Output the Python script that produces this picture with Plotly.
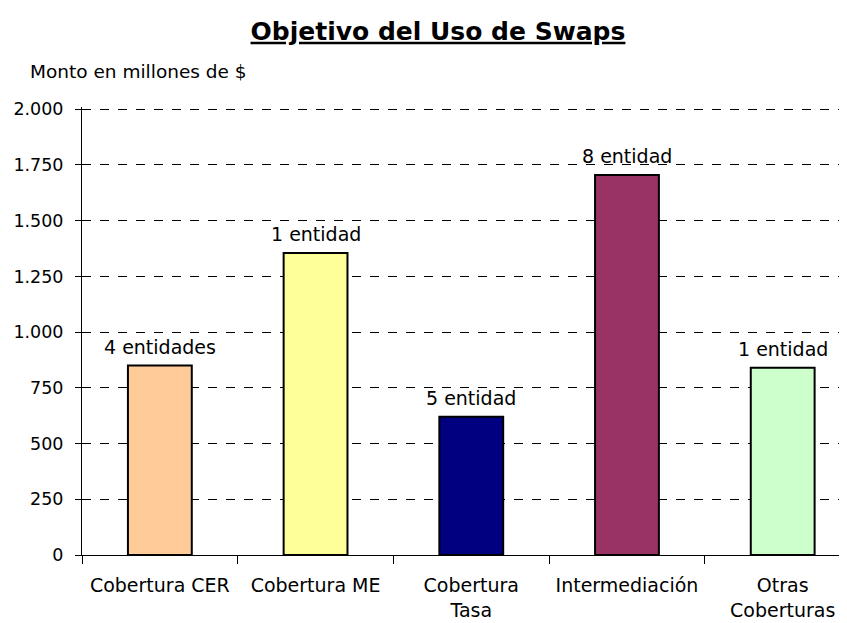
import plotly.graph_objects as go

categorias = ['Cobertura CER', 'Cobertura ME', 'Cobertura<br>Tasa', 'Intermediación', 'Otras<br>Coberturas']
montos = [850, 1355, 620, 1705, 840]
etiquetas = ['4 entidades', '1 entidad', '5 entidad', '8 entidad', '1 entidad']
colores = ['#FFCC99', '#FFFF99', '#000080', '#993366', '#CCFFCC']

FUENTE = 'DejaVu Sans'

fig = go.Figure(go.Bar(
    x=categorias, y=montos,
    marker=dict(color=colores, line=dict(color='black', width=2)),
    width=0.41, cliponaxis=False,
))

# etiquetas sobre cada barra
notas = [dict(x=c, y=v, text=t, xref='x', yref='y', yanchor='bottom', yshift=6,
              showarrow=False, font=dict(size=19, color='black', family=FUENTE))
         for c, v, t in zip(categorias, montos, etiquetas)]
notas.append(dict(text='Monto en millones de $', xref='paper', yref='paper',
                  x=-0.0706, y=1.08, xanchor='left', yanchor='middle',
                  showarrow=False, font=dict(size=18.5, family=FUENTE)))

# la página tiene 8px de margen en el body
fig.update_layout(
    width=839, height=615,
    margin=dict(l=74, r=0, t=99, b=68),
    paper_bgcolor='white', plot_bgcolor='white',
    font=dict(family=FUENTE, size=17, color='black'),
    separators=',.',
    showlegend=False,
    title=dict(text='<b><u>Objetivo del Uso de Swaps</u></b>', x=0.5125, xanchor='center',
               y=1 - 23 / 615, yanchor='middle', yref='container',
               font=dict(size=25, color='black', family=FUENTE)),
    annotations=notas,
    yaxis=dict(
        range=[0, 2010], tick0=0, dtick=250, tickformat=',d',
        showgrid=True, gridcolor='black', griddash='dash', gridwidth=1,
        showline=True, linecolor='black', linewidth=1,
        ticks='outside', ticklen=6, tickcolor='black', ticklabelstandoff=8,
        tickfont=dict(size=17.5), zeroline=False, automargin=False,
    ),
    xaxis=dict(
        range=[-0.5, 4.413],
        showline=True, linecolor='black', linewidth=1,
        ticks='outside', ticklen=8, tickcolor='black', tickson='boundaries',
        ticklabelstandoff=13,
        tickfont=dict(size=19), showgrid=False, automargin=False,
    ),
)

fig.write_html("out.html")
